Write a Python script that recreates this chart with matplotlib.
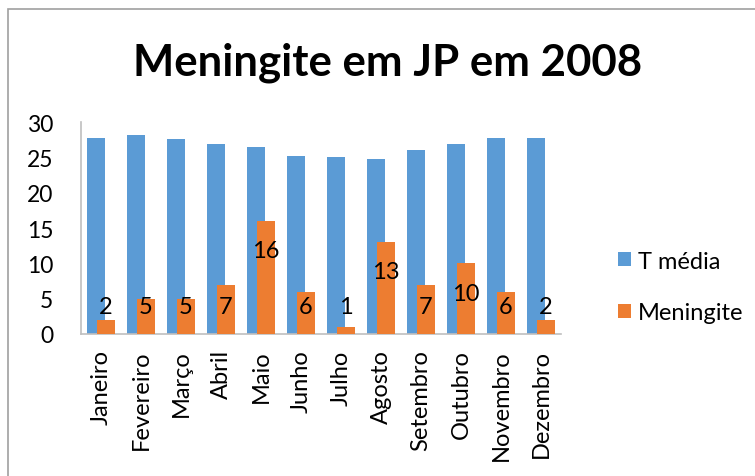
import numpy as np
import matplotlib.pyplot as plt
from matplotlib.patches import Rectangle

plt.rcParams['font.family'] = ['Lato', 'DejaVu Sans']

meses = ["Janeiro", "Fevereiro", "Março", "Abril", "Maio", "Junho",
         "Julho", "Agosto", "Setembro", "Outubro", "Novembro", "Dezembro"]
t_media = [27.8, 28.1, 27.6, 26.9, 26.4, 25.2, 25.0, 24.8, 26.1, 26.9, 27.7, 27.8]
meningite = [2, 5, 5, 7, 16, 6, 1, 13, 7, 10, 6, 2]

azul = "#5B9BD5"
laranja = "#ED7D31"

fig = plt.figure(figsize=(7.55, 4.77), dpi=100)
ax = fig.add_axes([0.1073, 0.2977, 0.6358, 0.4444])

# moldura do gráfico (estilo Excel)
fig.patches.append(Rectangle((8 / 755, -0.1), 1.2, (477 - 10) / 477 + 0.1,
                             transform=fig.transFigure, fill=False,
                             edgecolor="#a0a0a0", linewidth=1.2))

x = np.arange(len(meses))
w = 0.44
ax.bar(x - 0.125, t_media, w, color=azul, label="T média", zorder=2)
ax.bar(x + 0.125, meningite, w, color=laranja, label="Meningite", zorder=3)

# rótulos dentro da barra laranja, perto do topo
m = np.array(meningite)
y_rot = np.maximum(m - 4.2, 3.9)
for xi, yi, v in zip(x, y_rot, m):
    ax.text(xi + 0.125, yi, str(v), ha="center", va="center",
            fontsize=17, color="black", zorder=4)

ax.set_xlim(-0.5, 11.5)
ax.set_ylim(0, 30)
ax.set_yticks([0, 5, 10, 15, 20, 25, 30])
ax.set_xticks(x)
ax.set_xticklabels(meses, rotation=90, fontsize=17)
ax.tick_params(axis="y", length=0, pad=20, labelsize=16.5)
ax.tick_params(axis="x", length=0, pad=11)

for s in ["top", "right"]:
    ax.spines[s].set_visible(False)
ax.spines["left"].set_color("#bfbfbf")
ax.spines["bottom"].set_color("#bfbfbf")
ax.spines["left"].set_linewidth(1.2)
ax.spines["bottom"].set_linewidth(1.2)

fig.text(388 / 755, (477 - 63) / 477, "Meningite em JP em 2008",
         ha="center", va="center", fontsize=31.5, fontweight="bold")

fig.legend(loc="center left", bbox_to_anchor=(606 / 755, (477 - 288) / 477),
           frameon=False, fontsize=17, handlelength=0.55, handleheight=0.55,
           handletextpad=0.3, labelspacing=1.3, borderpad=0)

fig.savefig("out.png", dpi=100)
